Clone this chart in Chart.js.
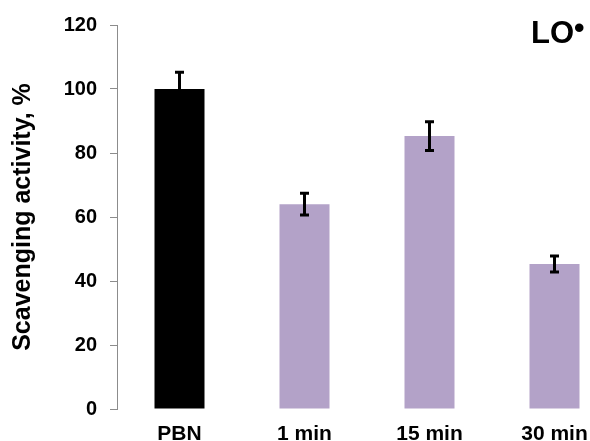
<!DOCTYPE html>
<html>
<head>
<meta charset="utf-8">
<script src="https://cdn.jsdelivr.net/npm/chart.js@4"></script>
<style>
    body { margin: 0; overflow: hidden; background: #fff; }
</style>
</head>
<body>
<canvas id="scavChart" width="630" height="441"></canvas>
<script>
const categories = ['PBN', '1 min', '15 min', '30 min'];
const activity = [100, 64, 85.3, 45.3];
const activityErr = [5.2, 3.4, 4.5, 2.5];
const barColors = ['#000000', '#b3a2c8', '#b3a2c8', '#b3a2c8'];
const yTicks = [0, 20, 40, 60, 80, 100, 120];

const FONT = '"Liberation Sans", Arial, sans-serif';

// error bars drawn through the y scale
const errorBars = {
    id: 'errorBars',
    afterDatasetsDraw(chart) {
        const ctx = chart.ctx;
        const yScale = chart.scales.y;
        const meta = chart.getDatasetMeta(0);
        ctx.save();
        ctx.strokeStyle = '#000';
        ctx.lineWidth = 3;
        meta.data.forEach((bar, i) => {
            const x = bar.x;
            const top = yScale.getPixelForValue(activity[i] + activityErr[i]);
            const bottom = yScale.getPixelForValue(activity[i] - activityErr[i]);
            ctx.beginPath();
            ctx.moveTo(x, top);
            ctx.lineTo(x, bottom);
            ctx.moveTo(x - 4.5, top);
            ctx.lineTo(x + 4.5, top);
            ctx.moveTo(x - 4.5, bottom);
            ctx.lineTo(x + 4.5, bottom);
            ctx.stroke();
        });
        ctx.restore();
    }
};

// "LO•" label in the corner
const radicalLabel = {
    id: 'radicalLabel',
    afterDraw(chart) {
        const ctx = chart.ctx;
        ctx.save();
        ctx.fillStyle = '#000';
        ctx.textBaseline = 'alphabetic';
        ctx.font = 'bold 31px ' + FONT;
        ctx.fillText('LO', 531, 43);
        ctx.font = 'bold 30px ' + FONT;
        ctx.fillText('•', 574, 38);
        ctx.restore();
    }
};

new Chart(document.getElementById('scavChart').getContext('2d'), {
    type: 'bar',
    data: {
        labels: categories,
        datasets: [{
            data: activity,
            backgroundColor: barColors,
            borderWidth: 0,
            barPercentage: 0.4,
            categoryPercentage: 1.0
        }]
    },
    options: {
        responsive: false,
        animation: false,
        layout: { padding: { top: 25, right: 13, left: 0, bottom: 0 } },
        plugins: {
            legend: { display: false },
            tooltip: { enabled: false }
        },
        scales: {
            x: {
                grid: { display: false, drawTicks: false },
                border: { display: false },
                ticks: {
                    color: '#000',
                    padding: 13,
                    font: { family: FONT, size: 21, weight: 'bold' }
                },
                afterFit: s => { s.height = 32; }
            },
            y: {
                min: 0,
                max: 120,
                afterBuildTicks: s => { s.ticks = yTicks.map(v => ({ value: v })); },
                grid: {
                    drawOnChartArea: false,
                    drawTicks: true,
                    tickLength: 7,
                    color: '#8c8c8c'
                },
                border: { display: true, color: '#8c8c8c', width: 1 },
                ticks: {
                    color: '#000',
                    padding: 13,
                    font: { family: FONT, size: 20, weight: 'bold' }
                },
                title: {
                    display: true,
                    text: 'Scavenging activity, %',
                    color: '#000',
                    padding: { top: 8, bottom: 0 },
                    font: { family: FONT, size: 25, weight: 'bold' }
                },
                afterFit: s => { s.width = 117; }
            }
        }
    },
    plugins: [errorBars, radicalLabel]
});
</script>
</body>
</html>
